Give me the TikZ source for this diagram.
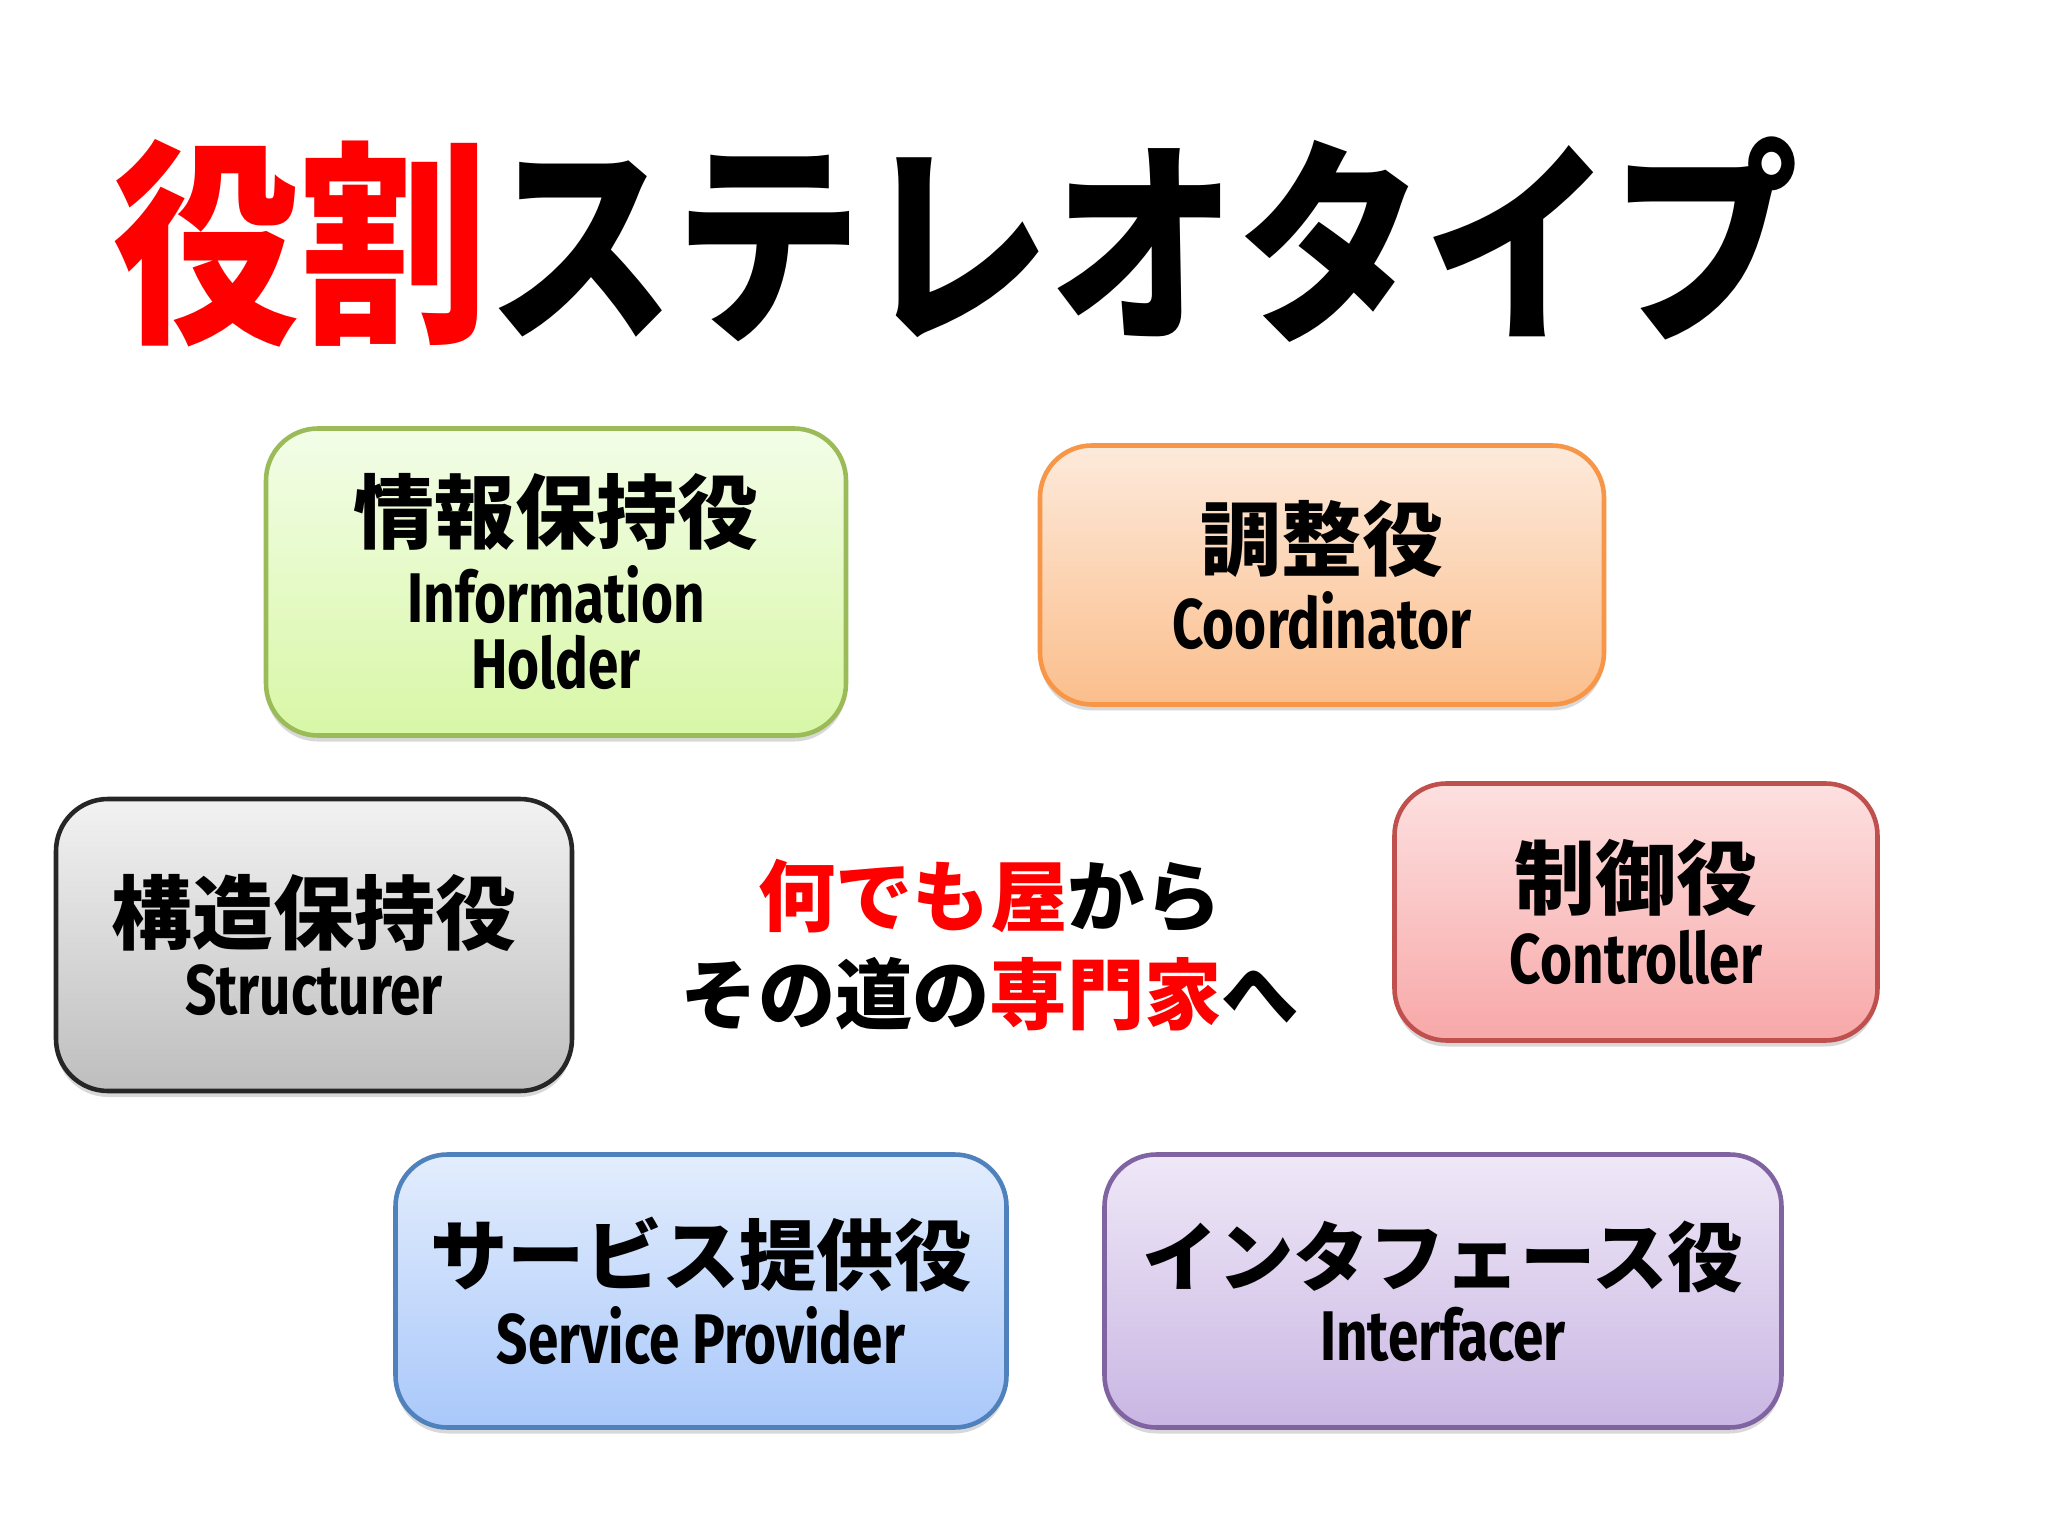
\documentclass[tikz,border=0pt]{standalone}
\usepackage{fontspec}
\newfontfamily\jpfont{Noto Sans CJK JP}
\newfontfamily\titlefont{Noto Sans CJK JP}[FakeStretch=0.86]
\newfontfamily\enfont{Fira Sans}[FakeStretch=0.78]
\usetikzlibrary{shadows}
\definecolor{keyred}{HTML}{FF0000}
\newcommand{\jptext}[2][23]{{\jpfont\bfseries\fontsize{#1}{26}\selectfont #2}}
\newcommand{\entext}[1]{{\enfont\bfseries\fontsize{20}{17}\selectfont #1}}
\tikzset{
  rolebox/.style={draw, line width=1.3pt, rounded corners=0.52cm, align=center,
    font=\fontsize{20}{17}\selectfont,
    drop shadow={opacity=0.3, shadow xshift=0pt, shadow yshift=-0.06cm}},
  infobox/.style={rolebox, draw=HTMLgreen, top color=infotop, bottom color=infobot},
  coordbox/.style={rolebox, draw=HTMLorange, top color=coordtop, bottom color=coordbot},
  structbox/.style={rolebox, draw=black!85, top color=structtop, bottom color=structbot},
  ctrlbox/.style={rolebox, draw=HTMLred, top color=ctrltop, bottom color=ctrlbot},
  servbox/.style={rolebox, draw=HTMLblue, top color=servtop, bottom color=servbot},
  ifacebox/.style={rolebox, draw=HTMLpurple, top color=ifacetop, bottom color=ifacebot}
}
\definecolor{HTMLgreen}{HTML}{9BBB59}
\definecolor{infotop}{HTML}{F3FDE8}
\definecolor{infobot}{HTML}{D8F7A6}
\definecolor{HTMLorange}{HTML}{F79646}
\definecolor{coordtop}{HTML}{FDEADB}
\definecolor{coordbot}{HTML}{FBBE8C}
\definecolor{structtop}{HTML}{F2F2F2}
\definecolor{structbot}{HTML}{BEBEBE}
\definecolor{HTMLred}{HTML}{C0504D}
\definecolor{ctrltop}{HTML}{FDE0E0}
\definecolor{ctrlbot}{HTML}{F8A8A8}
\definecolor{HTMLblue}{HTML}{4F81BD}
\definecolor{servtop}{HTML}{E3EDFD}
\definecolor{servbot}{HTML}{A9C8FA}
\definecolor{HTMLpurple}{HTML}{8064A2}
\definecolor{ifacetop}{HTML}{EFE8F7}
\definecolor{ifacebot}{HTML}{C9B6E3}
\begin{document}
\begin{tikzpicture}
\useasboundingbox[fill=white] (0,0) rectangle (20.48,-15.36);
\node (title) at (9.56,-2.42) {\titlefont\bfseries\fontsize{62}{70}\selectfont\textcolor{keyred}{役割}ステレオタイプ};
\node[infobox, minimum width=5.8cm, minimum height=3.07cm] (info) at (5.56,-5.82)
  {\jptext{情報保持役}\\[3pt]\entext{Information}\\[2pt]\entext{Holder}};
\node[coordbox, minimum width=5.64cm, minimum height=2.59cm] (coord) at (13.22,-5.75)
  {\jptext{調整役}\\[3pt]\entext{Coordinator}};
\node[structbox, minimum width=5.16cm, minimum height=2.92cm] (struct) at (3.14,-9.45)
  {\jptext{構造保持役}\\[3pt]\entext{Structurer}};
\node[ctrlbox, minimum width=4.83cm, minimum height=2.57cm] (ctrl) at (16.36,-9.12)
  {\jptext{制御役}\\[3pt]\entext{Controller}};
\node[servbox, minimum width=6.11cm, minimum height=2.73cm] (serv) at (7.01,-12.91)
  {\jptext[22]{サービス提供役}\\[3pt]\entext{Service Provider}};
\node[ifacebox, minimum width=6.77cm, minimum height=2.73cm] (iface) at (14.43,-12.91)
  {\jptext[21.5]{インタフェース役}\\[3pt]\entext{Interfacer}};
\node[align=center, font=\jpfont\bfseries\fontsize{22}{28}\selectfont] (motto) at (9.9,-9.45)
  {\textcolor{keyred}{何でも屋}から\\その道の\textcolor{keyred}{専門家}へ};
\end{tikzpicture}
\end{document}
